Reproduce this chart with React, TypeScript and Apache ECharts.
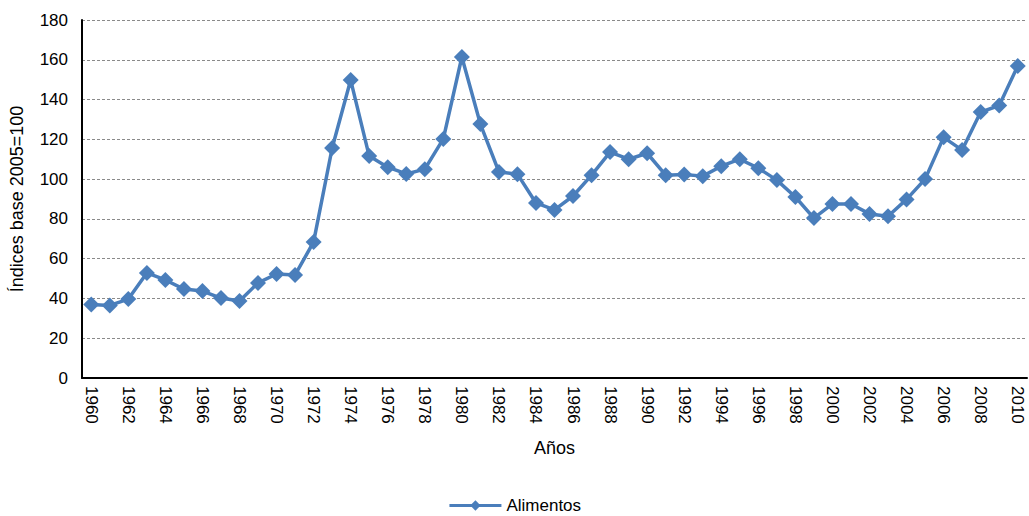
import React, { useEffect, useRef } from "react";
import * as echarts from "echarts";

const years: string[] = [
  "1960","1961","1962","1963","1964","1965","1966","1967","1968","1969",
  "1970","1971","1972","1973","1974","1975","1976","1977","1978","1979",
  "1980","1981","1982","1983","1984","1985","1986","1987","1988","1989",
  "1990","1991","1992","1993","1994","1995","1996","1997","1998","1999",
  "2000","2001","2002","2003","2004","2005","2006","2007","2008","2009","2010",
];

const alimentos: number[] = [
  37, 36.5, 39.7, 52.8, 49.3, 44.7, 43.7, 40.2, 38.7, 47.8,
  52.3, 51.8, 68.4, 115.6, 149.8, 111.6, 106, 102.6, 105, 120.2,
  161.4, 127.7, 103.6, 102.5, 88, 84.5, 91.5, 102, 113.6, 110,
  113, 102, 102.3, 101.5, 106.5, 110, 105.5, 99.5, 91, 80.4,
  87.5, 87.5, 82.5, 81.3, 89.8, 100, 121, 114.6, 133.7, 137, 156.9,
];

const FONT = "'Liberation Sans', Arial, sans-serif";

export default function App() {
  const ref = useRef<HTMLDivElement>(null);
  useEffect(() => {
    if (!ref.current) return;
    const chart = echarts.init(ref.current, undefined, { renderer: "svg" });
    chart.setOption({
      animation: false,
      textStyle: { fontFamily: FONT },
      grid: {
        left: 82,
        right: 2,
        top: 20,
        bottom: 138,
        containLabel: false,
        outerBoundsMode: "none",
      },
      legend: {
        bottom: -3,
        left: "center",
        itemWidth: 52,
        itemHeight: 13,
        itemGap: 10,
        textStyle: { fontSize: 17, color: "#000", fontFamily: FONT },
        lineStyle: { width: 3 },
        data: ["Alimentos"],
      },
      xAxis: {
        type: "category",
        data: years,
        boundaryGap: true,
        name: "Años",
        nameLocation: "middle",
        nameGap: 61,
        nameTextStyle: { fontSize: 18, color: "#000", fontFamily: FONT },
        axisLine: { lineStyle: { color: "#000", width: 2 } },
        axisTick: { show: false },
        axisLabel: {
          interval: 1,
          rotate: -90,
          fontSize: 17,
          color: "#000",
          margin: 8,
          fontFamily: FONT,
        },
      },
      yAxis: {
        type: "value",
        min: 0,
        max: 180,
        interval: 20,
        name: "Índices base 2005=100",
        nameLocation: "middle",
        nameGap: 56,
        nameTextStyle: { fontSize: 18, color: "#000", fontFamily: FONT },
        axisLine: { show: true, lineStyle: { color: "#000", width: 2 } },
        axisTick: { show: false },
        axisLabel: { fontSize: 17, color: "#000", margin: 14, fontFamily: FONT },
        splitLine: { lineStyle: { color: "#8a8a8a", type: [3, 2], width: 1 } },
      },
      series: [
        {
          name: "Alimentos",
          type: "line",
          data: alimentos,
          symbol: "diamond",
          symbolSize: 16,
          showAllSymbol: true,
          itemStyle: { color: "#4A7EBB" },
          lineStyle: { color: "#4A7EBB", width: 3.5 },
        },
      ],
    });
    return () => chart.dispose();
  }, []);
  return (
    <div
      ref={ref}
      style={{ position: "absolute", left: 0, top: 0, width: 1029, height: 516 }}
    />
  );
}
